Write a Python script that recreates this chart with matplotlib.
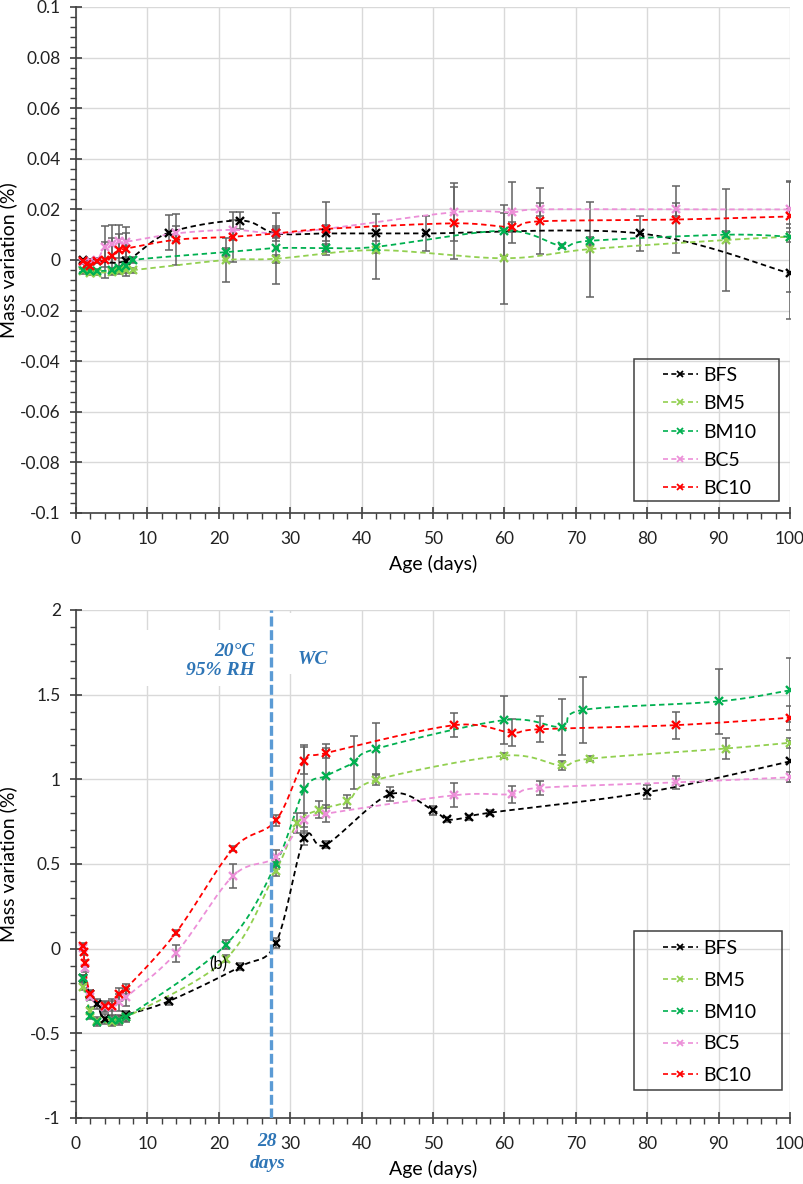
import numpy as np
import matplotlib
matplotlib.use("Agg")
import matplotlib.pyplot as plt
from matplotlib.lines import Line2D
from matplotlib.patches import Rectangle
from matplotlib.ticker import MultipleLocator, FuncFormatter

plt.rcParams['font.family'] = ['Lato', 'DejaVu Sans']

# -------------------------------
# data: (a) top panel
# -------------------------------
labels = ["BFS", "BM5", "BM10", "BC5", "BC10"]
colors = ["#000000", "#92D050", "#00B050", "#EC8FD8", "#FF0000"]

bfs_top_x = [1, 2, 3, 7, 13, 23, 28, 35, 42, 49, 79, 100]
bfs_top_y = [0.0, -0.0003, -0.0002, -0.0003, 0.0108, 0.0156, 0.0105, 0.0105, 0.0105, 0.0105, 0.0105, -0.0053]
bfs_top_e = [0.0005, 0.0005, 0.0005, 0.006, 0.007, 0.0035, 0.003, 0.003, 0.003, 0.007, 0.007, 0.018]

bm5_top_x = [1, 2, 3, 5, 6, 7, 8, 21, 28, 42, 60, 72, 91, 100]
bm5_top_y = [-0.0045, -0.005, -0.005, -0.0048, -0.0044, -0.004, -0.004, 0.0, 0.0005, 0.0039, 0.0007, 0.0043, 0.0079, 0.0092]
bm5_top_e = [0.001, 0.001, 0.001, 0.001, 0.001, 0.001, 0.001, 0.0085, 0.0015, 0.0013, 0.018, 0.0188, 0.02, 0.002]

bm10_top_x = [1, 2, 3, 5, 6, 7, 8, 21, 28, 35, 42, 60, 68, 72, 91, 100]
bm10_top_y = [-0.004, -0.0044, -0.0044, -0.0041, -0.0033, -0.0024, 0.0, 0.0031, 0.0047, 0.0047, 0.0052, 0.0116, 0.0056, 0.0076, 0.01, 0.0092]
bm10_top_e = [0.0008, 0.0008, 0.0008, 0.0008, 0.0008, 0.0008, 0.001, 0.0015, 0.014, 0.0015, 0.0128, 0.01, 0.0008, 0.0015, 0.0015, 0.022]

bc5_top_x = [1, 2, 3, 4, 5, 6, 7, 14, 22, 28, 35, 53, 61, 65, 84, 100]
bc5_top_y = [-0.0008, -0.0003, 0.0, 0.0053, 0.0065, 0.0074, 0.0072, 0.0105, 0.0119, 0.0105, 0.0123, 0.0189, 0.0189, 0.02, 0.02, 0.02]
bc5_top_e = [0.0008, 0.0008, 0.0008, 0.008, 0.0075, 0.0065, 0.006, 0.003, 0.004, 0.0015, 0.0015, 0.0115, 0.012, 0.0025, 0.0025, 0.011]

bc10_top_x = [1, 1.5, 2, 3, 4, 5, 6, 7, 14, 22, 28, 35, 53, 61, 65, 84, 100]
bc10_top_y = [-0.0004, -0.0015, -0.0024, -0.0005, 0.0, 0.0016, 0.0039, 0.0045, 0.008, 0.0092, 0.0105, 0.0123, 0.0145, 0.013, 0.0153, 0.016, 0.0172]
bc10_top_e = [0.0008, 0.0008, 0.0008, 0.0008, 0.007, 0.007, 0.0065, 0.006, 0.01, 0.0098, 0.002, 0.0105, 0.0143, 0.002, 0.013, 0.0132, 0.003]

# -------------------------------
# (b) bottom panel
# -------------------------------
bfs_bot_x = [1, 2, 3, 4, 7, 13, 23, 28, 32, 35, 44, 50, 52, 55, 58, 80, 100]
bfs_bot_y = [-0.176, -0.27, -0.326, -0.416, -0.39, -0.31, -0.106, 0.034, 0.653, 0.614, 0.912, 0.817, 0.763, 0.777, 0.803, 0.924, 1.106]
bfs_bot_e = [0.02, 0.02, 0.03, 0.03, 0.02, 0.02, 0.02, 0.03, 0.04, 0.02, 0.04, 0.025, 0.015, 0.015, 0.015, 0.04, 0.12]

bm5_bot_x = [1, 2, 3, 5, 6, 7, 21, 28, 31, 34, 38, 42, 60, 68, 72, 91, 100]
bm5_bot_y = [-0.226, -0.366, -0.426, -0.436, -0.42, -0.406, -0.06, 0.46, 0.741, 0.82, 0.87, 0.996, 1.14, 1.082, 1.122, 1.182, 1.216]
bm5_bot_e = [0.02, 0.02, 0.02, 0.02, 0.02, 0.02, 0.02, 0.03, 0.06, 0.05, 0.04, 0.03, 0.015, 0.025, 0.015, 0.06, 0.03]

bm10_bot_x = [1, 2, 3, 5, 6, 7, 21, 28, 32, 35, 39, 42, 60, 68, 71, 90, 100]
bm10_bot_y = [-0.176, -0.396, -0.436, -0.42, -0.42, -0.406, 0.024, 0.5, 0.942, 1.02, 1.10, 1.18, 1.35, 1.31, 1.41, 1.46, 1.526]
bm10_bot_e = [0.02, 0.02, 0.02, 0.03, 0.03, 0.03, 0.025, 0.03, 0.26, 0.19, 0.155, 0.15, 0.14, 0.165, 0.195, 0.19, 0.19]

bc5_bot_x = [1, 1.2, 2, 4, 5, 6, 7, 14, 22, 28, 32, 35, 53, 61, 65, 84, 100]
bc5_bot_y = [0.004, -0.116, -0.286, -0.346, -0.346, -0.316, -0.286, -0.026, 0.43, 0.54, 0.761, 0.797, 0.906, 0.912, 0.95, 0.982, 1.012]
bc5_bot_e = [0.02, 0.02, 0.02, 0.03, 0.05, 0.05, 0.05, 0.05, 0.07, 0.04, 0.04, 0.05, 0.07, 0.05, 0.04, 0.04, 0.03]

bc10_bot_x = [1, 1.1, 1.2, 2, 4, 5, 6, 7, 14, 22, 28, 32, 35, 53, 61, 65, 84, 100]
bc10_bot_y = [0.014, -0.02, -0.086, -0.266, -0.34, -0.34, -0.27, -0.236, 0.094, 0.59, 0.757, 1.11, 1.155, 1.32, 1.276, 1.296, 1.32, 1.364]
bc10_bot_e = [0.02, 0.02, 0.02, 0.02, 0.03, 0.03, 0.04, 0.03, 0.015, 0.015, 0.033, 0.08, 0.03, 0.07, 0.08, 0.078, 0.08, 0.07]

top_series = [(bfs_top_x, bfs_top_y, bfs_top_e), (bm5_top_x, bm5_top_y, bm5_top_e),
              (bm10_top_x, bm10_top_y, bm10_top_e), (bc5_top_x, bc5_top_y, bc5_top_e),
              (bc10_top_x, bc10_top_y, bc10_top_e)]
bot_series = [(bfs_bot_x, bfs_bot_y, bfs_bot_e), (bm5_bot_x, bm5_bot_y, bm5_bot_e),
              (bm10_bot_x, bm10_bot_y, bm10_bot_e), (bc5_bot_x, bc5_bot_y, bc5_bot_e),
              (bc10_bot_x, bc10_bot_y, bc10_bot_e)]


def smooth(x, y, n=24):
    # Excel-style smoothed line (Catmull-Rom bezier through the points)
    pts = np.column_stack([x, y]).astype(float)
    out = []
    for i in range(len(pts) - 1):
        p0 = pts[i - 1] if i > 0 else pts[i]
        p1, p2 = pts[i], pts[i + 1]
        p3 = pts[i + 2] if i + 2 < len(pts) else pts[i + 1]
        c1 = p1 + (p2 - p0) / 6
        c2 = p2 - (p3 - p1) / 6
        t = np.linspace(0, 1, n)[:, None]
        seg = (1 - t)**3 * p1 + 3 * (1 - t)**2 * t * c1 + 3 * (1 - t) * t**2 * c2 + t**3 * p2
        out.append(seg if i == 0 else seg[1:])
    s = np.vstack(out)
    return s[:, 0], s[:, 1]


def draw(ax, series):
    for (x, y, e), c in zip(series, colors):
        ax.errorbar(x, y, yerr=e, fmt='none', ecolor='#626262', elinewidth=1.1,
                    capsize=3, capthick=1.1, zorder=2)
        sx, sy = smooth(x, y)
        ax.plot(sx, sy, color=c, lw=1.3, dashes=(3, 2), zorder=3)
        ax.plot(x, y, 'x', color=c, ms=6, mew=1.7, zorder=4)


def setup(ax, ylo, yhi, ymaj, ymin):
    ax.set_xlim(0, 100)
    ax.set_ylim(ylo, yhi)
    ax.xaxis.set_major_locator(MultipleLocator(10))
    ax.xaxis.set_minor_locator(MultipleLocator(2))
    ax.yaxis.set_major_locator(MultipleLocator(ymaj))
    ax.yaxis.set_minor_locator(MultipleLocator(ymin))
    ax.yaxis.set_major_formatter(FuncFormatter(lambda v, p: f"{round(v, 6):g}" if abs(v) > 1e-9 else "0"))
    ax.grid(True, which='major', color='#d9d9d9', lw=1)
    ax.set_axisbelow(True)
    for s in ['top', 'right']:
        ax.spines[s].set_visible(False)
    for s in ['left', 'bottom']:
        ax.spines[s].set_color('#404040')
        ax.spines[s].set_linewidth(1.2)
    ax.tick_params(which='major', direction='inout', length=8, width=1.2, color='#404040',
                   labelsize=12.5, labelcolor='#222222')
    ax.tick_params(axis='x', which='major', pad=9)
    ax.tick_params(axis='y', which='major', pad=7)
    ax.tick_params(which='minor', direction='out', length=4, width=1, color='#404040')
    ax.set_xlabel("Age (days)", fontsize=14, labelpad=6)
    ax.set_ylabel("Mass variation (%)", fontsize=14)
    ax.yaxis.set_label_coords(-0.083, 0.5)


def add_legend(fig, frame_px, text_top_px, spacing):
    W, H = 804, 1184
    x0, y0, x1, y1 = frame_px
    fig.patches.append(Rectangle((x0 / W, 1 - y1 / H), (x1 - x0) / W, (y1 - y0) / H,
                                 transform=fig.transFigure, fill=False,
                                 edgecolor='#404040', lw=1.1))
    handles = [Line2D([], [], color=c, lw=1.2, dashes=(3, 2), marker='x', ms=5, mew=1.3)
               for c in colors]
    fig.legend(handles, labels, loc='upper left',
               bbox_to_anchor=((x0 + 29) / W, 1 - text_top_px / H),
               bbox_transform=fig.transFigure, frameon=False, fontsize=14,
               handlelength=1.8, handletextpad=0.25, labelspacing=spacing,
               borderpad=0, borderaxespad=0)


fig = plt.figure(figsize=(8.04, 11.84), dpi=100)
ax1 = fig.add_axes([76 / 804, 1 - 513 / 1184, 714 / 804, 506 / 1184])
ax2 = fig.add_axes([76 / 804, 1 - 1118 / 1184, 714 / 804, 508 / 1184])

setup(ax1, -0.1, 0.1, 0.02, 0.004)
setup(ax2, -1, 2, 0.5, 0.1)
draw(ax1, top_series)
draw(ax2, bot_series)

# annotations on the bottom panel
blue = '#2E75B6'
ax2.add_patch(Rectangle((3, 1.55), 23.5, 0.33, facecolor='white', edgecolor='none', zorder=1))
ax2.add_patch(Rectangle((28.3, 1.62), 9.7, 0.36, facecolor='white', edgecolor='none', zorder=1))
ax2.axvline(27.3, color='#5B9BD5', lw=2.4, dashes=(3, 1.1), zorder=5)
serif = dict(family='Liberation Serif', weight='bold', style='italic', color=blue, fontsize=14)
ax2.text(25, 1.70, "20°C\n95% RH", ha='right', va='center', multialignment='right',
         linespacing=1.15, **serif)
ax2.text(31, 1.71, "WC", ha='left', va='center', **serif)
ax2.text(26.8, -1.14, "28", ha='center', va='center', clip_on=False, **serif)
ax2.text(26.8, -1.27, "days", ha='center', va='center', clip_on=False, **serif)
ax2.text(19.9, -0.095, "(b)", ha='center', va='center', fontsize=12, zorder=6)

add_legend(fig, (634, 359, 779, 501), 367, 0.58)
add_legend(fig, (634, 931, 782, 1090), 940, 0.76)

fig.savefig("out.png", dpi=100)
